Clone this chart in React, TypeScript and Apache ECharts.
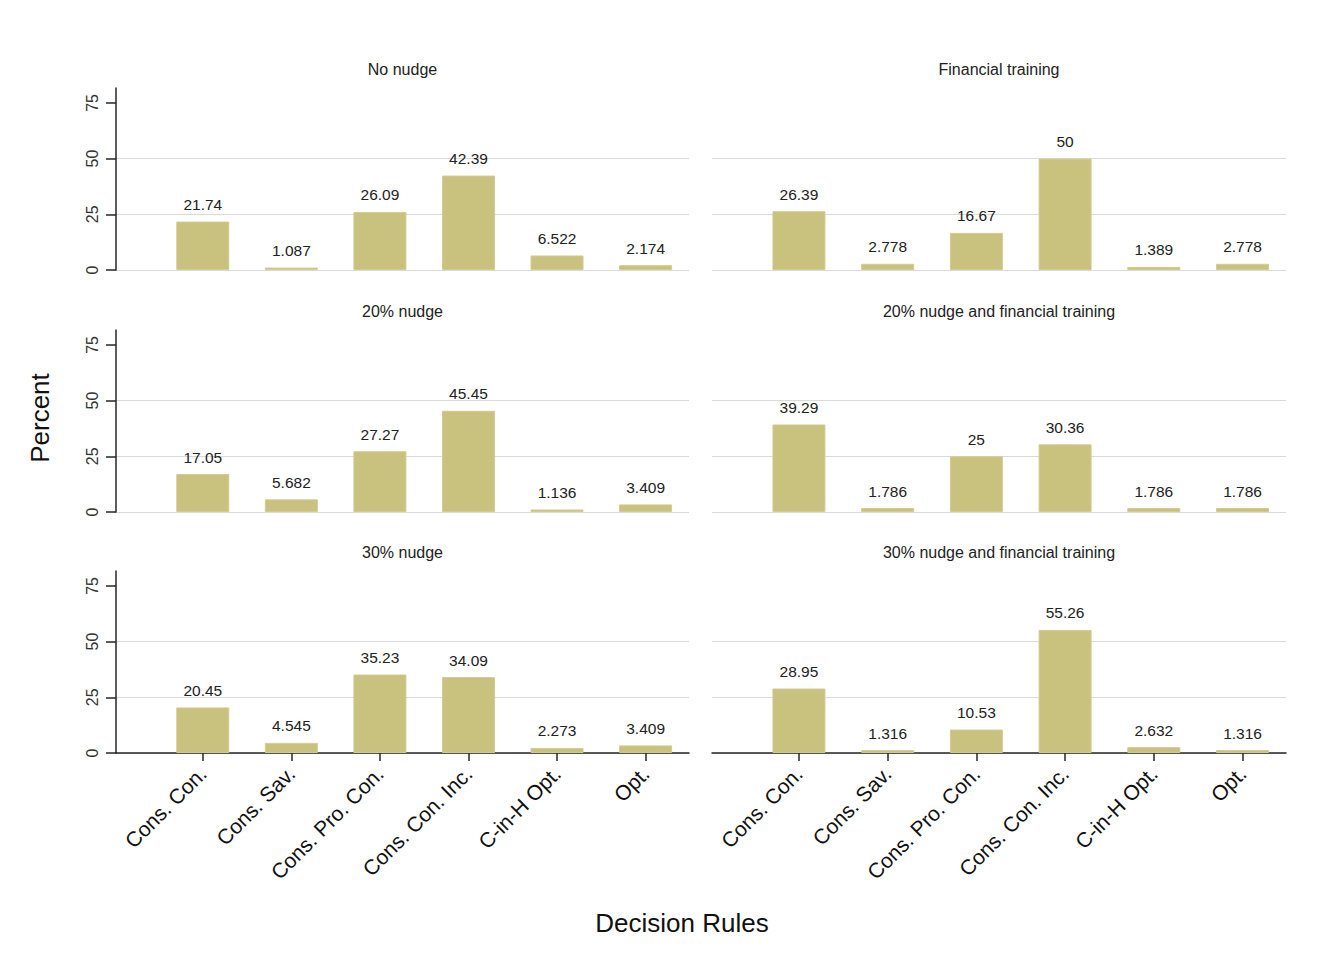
import React, { useEffect, useRef } from "react";
import * as echarts from "echarts";

// Decision rules on the horizontal axis
const categories = [
  "Cons. Con.",
  "Cons. Sav.",
  "Cons. Pro. Con.",
  "Cons. Con. Inc.",
  "C-in-H Opt.",
  "Opt.",
];

// Percent of participants per decision rule, by treatment
const noNudge = [21.74, 1.087, 26.09, 42.39, 6.522, 2.174];
const financialTraining = [26.39, 2.778, 16.67, 50, 1.389, 2.778];
const nudge20 = [17.05, 5.682, 27.27, 45.45, 1.136, 3.409];
const nudge20Training = [39.29, 1.786, 25, 30.36, 1.786, 1.786];
const nudge30 = [20.45, 4.545, 35.23, 34.09, 2.273, 3.409];
const nudge30Training = [28.95, 1.316, 10.53, 55.26, 2.632, 1.316];

const panelTitles = [
  "No nudge",
  "Financial training",
  "20% nudge",
  "20% nudge and financial training",
  "30% nudge",
  "30% nudge and financial training",
];
const panelValues = [
  noNudge,
  financialTraining,
  nudge20,
  nudge20Training,
  nudge30,
  nudge30Training,
];

const yTicks = [0, 25, 50, 75];
const yMax = 81.7;

const FONT = '"Liberation Sans", Arial, Helvetica, sans-serif';
const BAR = "#c9c17e";
const BAR_EDGE = "#d2cb92";
const GRID = "#dadada";
const AXIS = "#262626";

// panel geometry
const colLeft = [116, 712];
const colWidth = [573, 574];
const rowTop = [88, 330, 571];
const plotHeight = 182;

export default function App() {
  const ref = useRef<HTMLDivElement>(null);

  useEffect(() => {
    if (!ref.current) return;
    const chart = echarts.init(ref.current, null, { renderer: "svg" });

    const grids: any[] = [];
    const xAxes: any[] = [];
    const yAxes: any[] = [];
    const series: any[] = [];
    const graphics: any[] = [];

    panelValues.forEach((vals, idx) => {
      const row = Math.floor(idx / 2);
      const col = idx % 2;
      const isBottom = row === 2;
      const isLeft = col === 0;
      grids.push({
        left: colLeft[col],
        width: colWidth[col],
        top: rowTop[row],
        height: plotHeight,
        containLabel: false,
      });
      xAxes.push({
        type: "value",
        gridIndex: idx,
        min: 0.02,
        max: 6.49,
        splitLine: { show: false },
        axisLine: {
          show: isBottom,
          onZero: false,
          lineStyle: { color: AXIS, width: 1.5 },
        },
        axisTick: {
          show: isBottom,
          length: 8,
          customValues: categories.map((_, i) => i + 1),
          lineStyle: { color: AXIS, width: 1.5 },
        },
        axisLabel: {
          show: isBottom,
          customValues: categories.map((_, i) => i + 1),
          rotate: 45,
          margin: 17,
          fontSize: 21,
          fontFamily: FONT,
          color: "#111",
          formatter: (v: number) => categories[Math.round(v) - 1] ?? "",
        },
      });
      yAxes.push({
        type: "value",
        gridIndex: idx,
        min: 0,
        max: yMax,
        interval: 25,
        axisLine: {
          show: isLeft,
          lineStyle: { color: AXIS, width: 1.5 },
        },
        axisTick: {
          show: isLeft,
          length: 10,
          customValues: yTicks,
          lineStyle: { color: AXIS, width: 1.5 },
        },
        axisLabel: {
          show: isLeft,
          customValues: yTicks,
          rotate: 90,
          margin: 16,
          fontSize: 16,
          fontFamily: FONT,
          color: "#333",
        },
        splitLine: {
          show: true,
          lineStyle: {
            color: [GRID, GRID, GRID, "rgba(0,0,0,0)", "rgba(0,0,0,0)"],
            width: 1,
          },
        },
      });
      series.push({
        type: "bar",
        xAxisIndex: idx,
        yAxisIndex: idx,
        barWidth: 53,
        data: vals.map((v, i) => [i + 1, v]),
        itemStyle: { color: BAR, borderColor: BAR_EDGE, borderWidth: 1 },
        label: {
          show: true,
          position: "top",
          distance: 9,
          fontSize: 15.5,
          fontFamily: FONT,
          color: "#222",
          formatter: (p: any) => String(p.value[1]),
        },
      });
      graphics.push({
        type: "text",
        x: colLeft[col] + colWidth[col] / 2,
        y: rowTop[row] - 19,
        style: {
          text: panelTitles[idx],
          fontSize: 16,
          fontFamily: FONT,
          fill: "#222",
          textAlign: "center",
          textVerticalAlign: "middle",
        },
      });
    });

    graphics.push({
      type: "text",
      x: 40,
      y: 418,
      rotation: Math.PI / 2,
      style: {
        text: "Percent",
        fontSize: 26,
        fontFamily: FONT,
        fill: "#111",
        textAlign: "center",
        textVerticalAlign: "middle",
      },
    });
    graphics.push({
      type: "text",
      x: 682,
      y: 923,
      style: {
        text: "Decision Rules",
        fontSize: 26,
        fontFamily: FONT,
        fill: "#111",
        textAlign: "center",
        textVerticalAlign: "middle",
      },
    });

    chart.setOption({
      animation: false,
      backgroundColor: "#ffffff",
      grid: grids,
      xAxis: xAxes,
      yAxis: yAxes,
      series,
      graphic: graphics,
    });

    return () => chart.dispose();
  }, []);

  return (
    <div
      ref={ref}
      style={{ position: "absolute", left: 0, top: 0, width: 1343, height: 966 }}
    />
  );
}
